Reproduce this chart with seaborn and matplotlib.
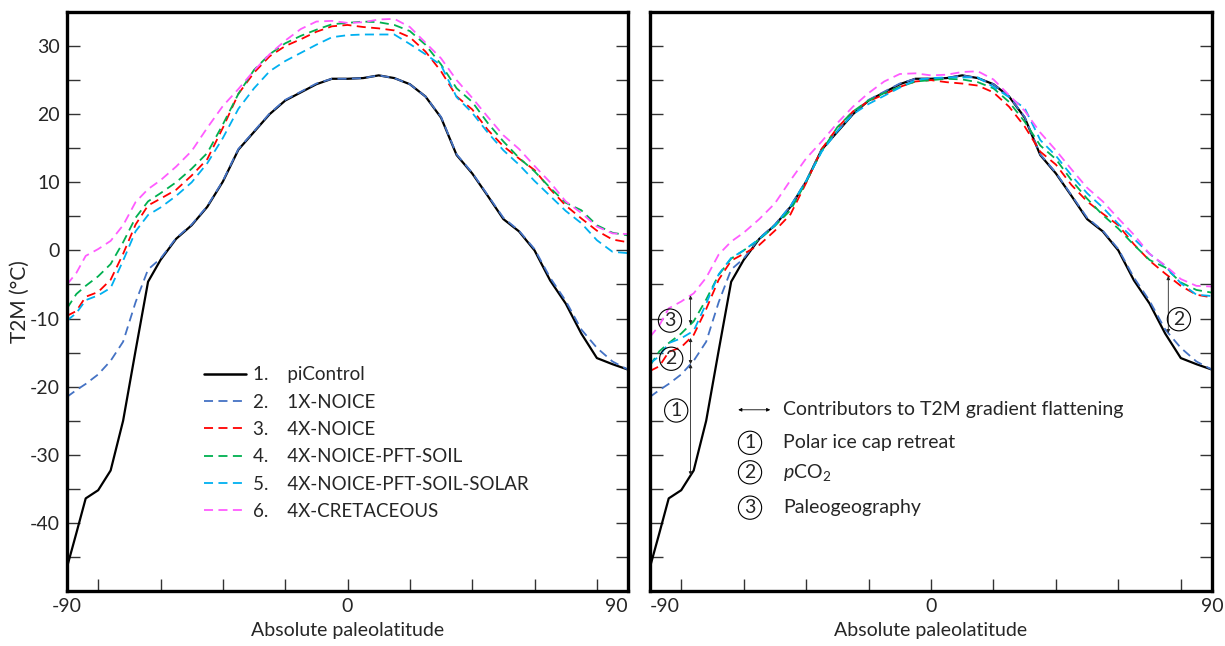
import numpy as np
import pandas as pd
import matplotlib
matplotlib.use("Agg")
import matplotlib.pyplot as plt
import seaborn as sns

# absolute paleolatitude grid (deg)
lat = [-90, -87, -84, -80, -76, -72, -68, -64, -60,
       -55, -50, -45, -40, -35, -30, -25, -20, -15, -10, -5, 0,
       5, 10, 15, 20, 25, 30, 35, 40, 45, 50, 55, 60, 65, 70, 75, 80, 85, 90]

# zonal mean T2M (degC)
picontrol = [-46.5, -41.5, -36.4, -35.2, -32.3, -25.0, -14.7, -4.6, -1.4,
             1.7, 3.7, 6.4, 10.1, 14.8, 17.4, 20.0, 22.0, 23.2, 24.4, 25.2, 25.2,
             25.3, 25.7, 25.3, 24.4, 22.6, 19.5, 14.0, 11.3, 8.0, 4.6, 2.8, 0.0, -4.4, -7.8, -12.2, -15.8, -16.7, -17.5]
noice_1x = [-21.5, -20.5, -19.6, -18.2, -16.2, -13.4, -7.6, -2.8, -1.2,
            1.8, 3.8, 6.5, 10.2, 14.9, 17.5, 20.1, 22.1, 23.3, 24.5, 25.2, 25.2,
            25.3, 25.7, 25.3, 24.4, 22.6, 19.6, 14.1, 11.4, 8.1, 4.8, 2.9, 0.2, -4.0, -7.4, -11.6, -14.3, -16.3, -17.5]
noice_4x = [-9.6, -8.9, -6.8, -6.1, -4.3, -0.5, 3.8, 6.6, 7.6,
            8.9, 11.0, 13.4, 18.0, 23.0, 26.1, 28.5, 30.0, 31.0, 32.1, 32.9, 33.1,
            32.8, 32.6, 32.3, 31.3, 29.2, 26.3, 22.6, 20.7, 17.7, 15.3, 13.5, 11.8, 9.0, 6.6, 4.7, 2.9, 1.6, 1.2]
pft_soil = [-8.5, -6.4, -5.2, -3.8, -2.0, 1.2, 4.8, 7.2, 8.4,
            10.0, 12.0, 14.3, 18.5, 23.0, 26.5, 28.8, 30.4, 31.5, 32.4, 33.2, 33.4,
            33.6, 33.5, 33.1, 32.2, 30.2, 27.3, 23.8, 21.8, 18.7, 16.0, 13.6, 11.6, 9.2, 7.0, 5.9, 3.7, 2.6, 2.2]
pft_soil_solar = [-10.3, -9.2, -7.3, -6.6, -5.5, -1.5, 2.8, 5.2, 6.3,
                  8.0, 10.0, 12.8, 16.5, 20.8, 23.8, 26.3, 27.8, 29.0, 30.2, 31.3, 31.6,
                  31.7, 31.7, 31.7, 30.3, 28.8, 27.2, 22.5, 20.2, 17.3, 14.7, 12.6, 10.2, 8.0, 5.8, 4.0, 1.5, -0.2, -0.4]
cretaceous = [-5.0, -3.3, -0.8, 0.2, 1.4, 3.7, 7.1, 9.0, 10.3,
              12.3, 14.6, 18.0, 21.2, 23.7, 26.4, 28.8, 30.8, 32.5, 33.6, 33.7, 33.4,
              33.5, 33.9, 34.0, 32.8, 30.5, 28.2, 25.0, 22.4, 19.6, 16.9, 14.9, 12.4, 10.0, 7.2, 5.5, 3.5, 2.5, 2.4]

runs = ["piControl", "1X-NOICE", "4X-NOICE", "4X-NOICE-PFT-SOIL",
        "4X-NOICE-PFT-SOIL-SOLAR", "4X-CRETACEOUS"]
series = [picontrol, noice_1x, noice_4x, pft_soil, pft_soil_solar, cretaceous]
colors = ["#000000", "#4472C4", "#FF0000", "#00B050", "#00B0F0", "#FF5CFF"]
# shift of each run to line up the tropics (right panel)
tropical_offset = [0.0, 0.0, 8.1, 8.4, 6.3, 7.7]

# flattening contributors: label, arrow latitude, upper run, lower run, label position
contrib_num = ["3", "2", "1", "2"]
contrib_lat = [-77, -77, -77, 76]
contrib_top = ["4X-CRETACEOUS", "4X-NOICE", "1X-NOICE", "4X-NOICE"]
contrib_bot = ["4X-NOICE-PFT-SOIL", "1X-NOICE", "piControl", "1X-NOICE"]
contrib_lab_x = [-83.6, -83.2, -81.6, 79.4]
contrib_lab_y = [-10.3, -15.9, -23.5, -10.1]

rows = []
for name, vals, off in zip(runs, series, tropical_offset):
    for x, y in zip(lat, vals):
        rows.append((name, x, y, y - off))
df = pd.DataFrame(rows, columns=["run", "lat", "t2m", "t2m_shift"])

sns.set_style("ticks")
plt.rcParams["font.family"] = ["Lato", "DejaVu Sans"]
plt.rcParams["mathtext.fontset"] = "custom"
plt.rcParams["mathtext.rm"] = "Lato"
plt.rcParams["mathtext.it"] = "Lato:italic"

palette = dict(zip(runs, colors))
dashes = {r: (5, 3) for r in runs}
dashes["piControl"] = ""

fig = plt.figure(figsize=(12.25, 6.46), dpi=100)
ax1 = fig.add_axes([0.0547, 0.0851, 0.4580, 0.8963])
ax2 = fig.add_axes([0.5306, 0.0851, 0.4588, 0.8963])

xt = [-90, -80, -60, -40, -20, 0, 20, 40, 60, 80, 90]
yt = list(range(-45, 31, 5))
for ax, col in [(ax1, "t2m"), (ax2, "t2m_shift")]:
    sns.lineplot(data=df, x="lat", y=col, hue="run", style="run", hue_order=runs,
                 style_order=runs, palette=palette, dashes=dashes, linewidth=1.3,
                 errorbar=None, sort=False, legend=(ax is ax1), ax=ax)
    ax.lines[0].set_linewidth(1.6)
    ax.set_xlim(-90, 90)
    ax.set_ylim(-50, 35)
    ax.set_xticks(xt)
    ax.set_xticklabels([str(v) if v in (-90, 0, 90) else "" for v in xt], fontsize=14)
    ax.set_yticks(yt)
    ax.set_yticklabels([str(v) if v % 10 == 0 else "" for v in yt], fontsize=14)
    ax.tick_params(axis="both", direction="in", length=9, width=1.0, color="#333333",
                   right=True, top=False, pad=5)
    for s in ax.spines.values():
        s.set_linewidth(2.4)
        s.set_color("black")
    ax.set_xlabel("Absolute paleolatitude", fontsize=14, labelpad=5)
    ax.set_ylabel("")

# keep the edge labels of the two panels apart
ax1.get_xticklabels()[-1].set_horizontalalignment("right")
ax2.get_xticklabels()[0].set_horizontalalignment("left")

ax1.set_ylabel("T2M (°C)", fontsize=15, labelpad=0)
ax2.tick_params(axis="y", labelleft=False)

handles, labels = ax1.get_legend_handles_labels()
handles[0].set_linewidth(1.8)
new_labels = [f"{i + 1}.    {l}" for i, l in enumerate(labels)]
ax1.legend(handles, new_labels, loc="upper left", bbox_to_anchor=(0.245, 0.388),
           frameon=False, fontsize=13.5, handlelength=2.2, handletextpad=0.4,
           labelspacing=0.55, borderpad=0, borderaxespad=0)

# contributor arrows on the right panel
shift = df.pivot(index="lat", columns="run", values="t2m_shift")
for num, x, top, bot, lx, ly in zip(contrib_num, contrib_lat, contrib_top, contrib_bot,
                                    contrib_lab_x, contrib_lab_y):
    y0 = np.interp(x, shift.index, shift[top])
    y1 = np.interp(x, shift.index, shift[bot])
    ax2.annotate("", xy=(x, y1), xytext=(x, y0),
                 arrowprops=dict(arrowstyle="<|-|>", lw=0.6, color="#222222",
                                 mutation_scale=5, shrinkA=0, shrinkB=0))
    ax2.text(lx, ly, num, fontsize=14, ha="center", va="center",
             bbox=dict(boxstyle="circle,pad=0.16", fc="none", ec="black", lw=0.8))

# right-panel key
ax2.annotate("", xy=(0.214, 0.313), xytext=(0.157, 0.313), xycoords="axes fraction",
             arrowprops=dict(arrowstyle="<|-|>", lw=0.6, color="black",
                             mutation_scale=5, shrinkA=0, shrinkB=0))
ax2.text(0.237, 0.313, "Contributors to T2M gradient flattening", transform=ax2.transAxes,
         fontsize=14, va="center")
key_y = [0.256, 0.205, 0.144]
key_txt = ["Polar ice cap retreat", r"$p$CO$_2$", "Paleogeography"]
for i, (yy, t) in enumerate(zip(key_y, key_txt)):
    ax2.text(0.178, yy, str(i + 1), transform=ax2.transAxes, fontsize=14,
             ha="center", va="center",
             bbox=dict(boxstyle="circle,pad=0.16", fc="none", ec="black", lw=0.8))
    ax2.text(0.237, yy, t, transform=ax2.transAxes, fontsize=14, va="center")

fig.savefig("out.png", dpi=100)
